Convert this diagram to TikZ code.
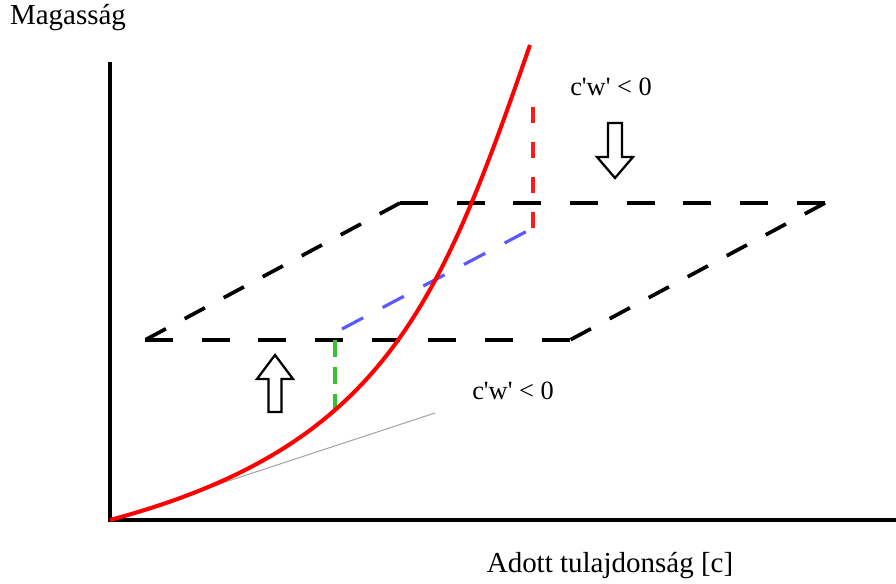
\documentclass[tikz,border=0pt]{standalone}
\usepackage{fontspec}
\setmainfont{Liberation Serif}
\begin{document}
\begin{tikzpicture}[
    x=0.02cm, y=-0.02cm,
    axis/.style={line width=2.2pt, black},
    plane/.style={line width=2.1pt, black, dash pattern=on 0.56cm off 0.574cm},
    slant/.style={line width=2.1pt, black, dash pattern=on 0.46cm off 0.426cm},
    guide/.style={line width=1.8pt},
    hollow/.style={draw, line width=1.3pt, fill=white, line join=miter},
    label/.style={font=\fontsize{15}{18}\selectfont},
    axislabel/.style={font=\fontsize{16.5}{20}\selectfont}
]
\useasboundingbox (0,0) rectangle (896,584);

% axes
\coordinate (origin) at (110,520);
\coordinate (ytop) at (110,62);
\coordinate (xend) at (896,520);
\draw[axis] (ytop) -- (origin) -- (xend);

\node[axislabel] (ylab) at (68,18) {Magasság};
\node[axislabel] (xlab) at (610,566) {Adott tulajdonság [c]};

% the plane
\coordinate (p1) at (145,340);
\coordinate (p2) at (570,340);
\coordinate (p3) at (825,203);
\coordinate (p4) at (400,203);
\draw[plane] (p1) -- (p2);
\draw[plane] (p4) -- (p3);
\draw[slant] (p4) -- (p1);
\draw[slant] (p3) -- (p2);

% tangent
\coordinate (t1) at (210,487);
\coordinate (t2) at (435,413);
\draw[gray!70, line width=0.6pt] (t1) -- (t2);

% guide lines
\coordinate (r1) at (533,107);
\coordinate (r2) at (533,228);
\coordinate (b1) at (342,329);
\coordinate (g1) at (335,340);
\coordinate (g2) at (335,410);
\draw[guide, red!90, dash pattern=on 0.32cm off 0.38cm] (r1) -- (r2);
\draw[guide, blue!65, dash pattern=on 0.48cm off 0.44cm] (b1) -- (r2);
\draw[guide, green!70!black!80, dash pattern=on 0.34cm off 0.2cm] (g1) -- (g2);

% curve
\coordinate (c0) at (110,520);
\coordinate (c1) at (530,45);
\draw[red, line width=2.3pt] (c0) .. controls (382,447) and (439,308) .. (c1);

% hollow arrows
\draw[hollow, shift={(615,178)}] (0,0) -- (18,-21) -- (7,-21) -- (7,-55)
    -- (-7,-55) -- (-7,-21) -- (-18,-21) -- cycle;
\draw[hollow, shift={(275,355)}] (0,0) -- (18,24) -- (6.5,24) -- (6.5,57)
    -- (-6.5,57) -- (-6.5,24) -- (-18,24) -- cycle;

\node[label] (top) at (611,87) {c\textquotesingle w\textquotesingle{} < 0};
\node[label] (bottom) at (513,391) {c\textquotesingle w\textquotesingle{} < 0};
\end{tikzpicture}
\end{document}
